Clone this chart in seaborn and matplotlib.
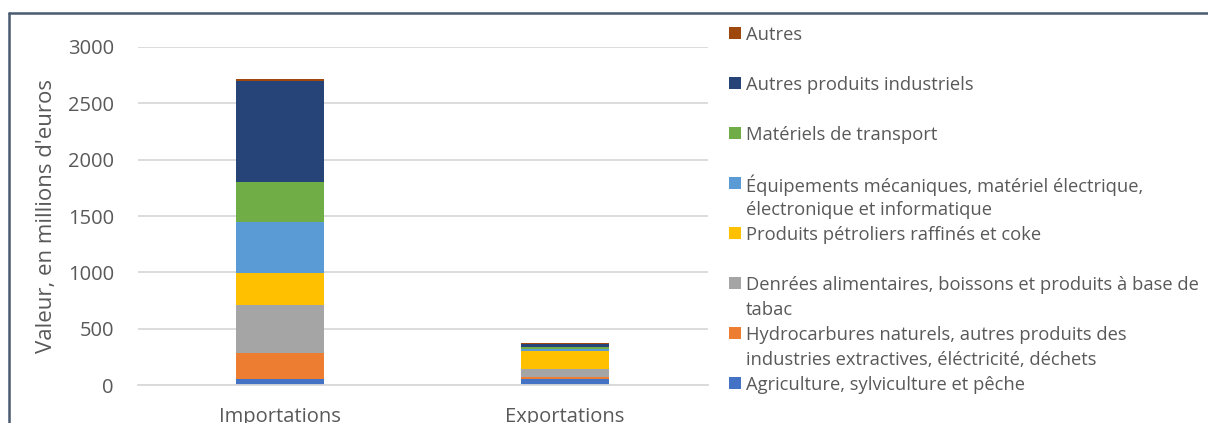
import matplotlib
matplotlib.use("Agg")
import matplotlib.pyplot as plt
from matplotlib.lines import Line2D
from matplotlib.patches import Rectangle
import seaborn as sns
import pandas as pd
import numpy as np

# Trade flows by product group (millions of euros)
flows = ["Importations", "Exportations"]
categories = [
    "Agriculture, sylviculture et pêche",
    "Hydrocarbures naturels, autres produits des\nindustries extractives, éléctricité, déchets",
    "Denrées alimentaires, boissons et produits à base de\ntabac",
    "Produits pétroliers raffinés et coke",
    "Équipements mécaniques, matériel électrique,\nélectronique et informatique",
    "Matériels de transport",
    "Autres produits industriels",
    "Autres",
]
importations = [50, 230, 430, 287, 447, 355, 897, 20]
exportations = [56, 12, 71, 163, 18, 14, 27, 10]
colors = ["#4472C4", "#ED7D31", "#A5A5A5", "#FFC000",
          "#5B9BD5", "#70AD47", "#264478", "#9E480E"]
yticks = [0, 500, 1000, 1500, 2000, 2500, 3000]

W, H = 1208, 423
sns.set_theme(style="white")
plt.rcParams["font.family"] = ["Open Sans", "DejaVu Sans"]

fig = plt.figure(figsize=(W / 100, H / 100), dpi=100)
fig.patch.set_facecolor("white")
ax = fig.add_axes([137.5 / W, 1 - 385 / H, 570 / W, 338 / H])

# Long-format table with cumulative tops for stacking
df = pd.DataFrame({
    "flux": np.repeat(flows, len(categories)),
    "produit": categories * len(flows),
    "valeur": importations + exportations,
})
df["cumul"] = df.groupby("flux")["valeur"].cumsum()

# Draw from the top layer down so each lower segment overlays the one above
for cat, col in reversed(list(zip(categories, colors))):
    sub = df[df["produit"] == cat]
    sns.barplot(data=sub, x="flux", y="cumul", order=flows, color=col,
                width=0.31, linewidth=0, saturation=1, ax=ax, errorbar=None)

ax.set_ylim(0, 3000)
ax.set_xlim(-0.5, 1.5)
ax.set_yticks(yticks)
ax.set_yticklabels([str(v) for v in yticks])
ax.yaxis.grid(True, color="#D9D9D9", linewidth=1.3)
ax.set_axisbelow(True)
for s in ["top", "right", "left"]:
    ax.spines[s].set_visible(False)
ax.spines["bottom"].set_color("#D9D9D9")
ax.spines["bottom"].set_linewidth(1.3)
ax.tick_params(axis="y", length=0, pad=17, labelsize=14.5, labelcolor="#595959")
ax.tick_params(axis="x", length=0, pad=16, labelsize=14.5, labelcolor="#595959")
ax.set_xlabel("")
ax.set_ylabel("Valeur, en millions d'euros", fontsize=16, color="#595959",
              labelpad=8)

# Legend, listed from the top of the stack down
x_sq, x_txt, y0 = 729, 746, 33
for i, (cat, col) in enumerate(reversed(list(zip(categories, colors)))):
    yc = y0 + 50 * i
    fig.add_artist(Rectangle((x_sq / W, 1 - (yc + 6) / H), 12 / W, 12 / H,
                             transform=fig.transFigure, facecolor=col,
                             edgecolor="none"))
    for k, line in enumerate(cat.split("\n")):
        fig.text(x_txt / W, 1 - (yc + 25 * k) / H, line, fontsize=13.2,
                 color="#595959", va="center_baseline", ha="left")

# Chart-area frame
frame = "#4A5A70"
fig.add_artist(Line2D([9 / W, 1], [1 - 13 / H, 1 - 13 / H], color=frame,
                      linewidth=1.8, transform=fig.transFigure))
fig.add_artist(Line2D([9 / W, 9 / W], [0, 1 - 13 / H], color=frame,
                      linewidth=1.8, transform=fig.transFigure))

fig.savefig("out.png", dpi=100, facecolor="white")
